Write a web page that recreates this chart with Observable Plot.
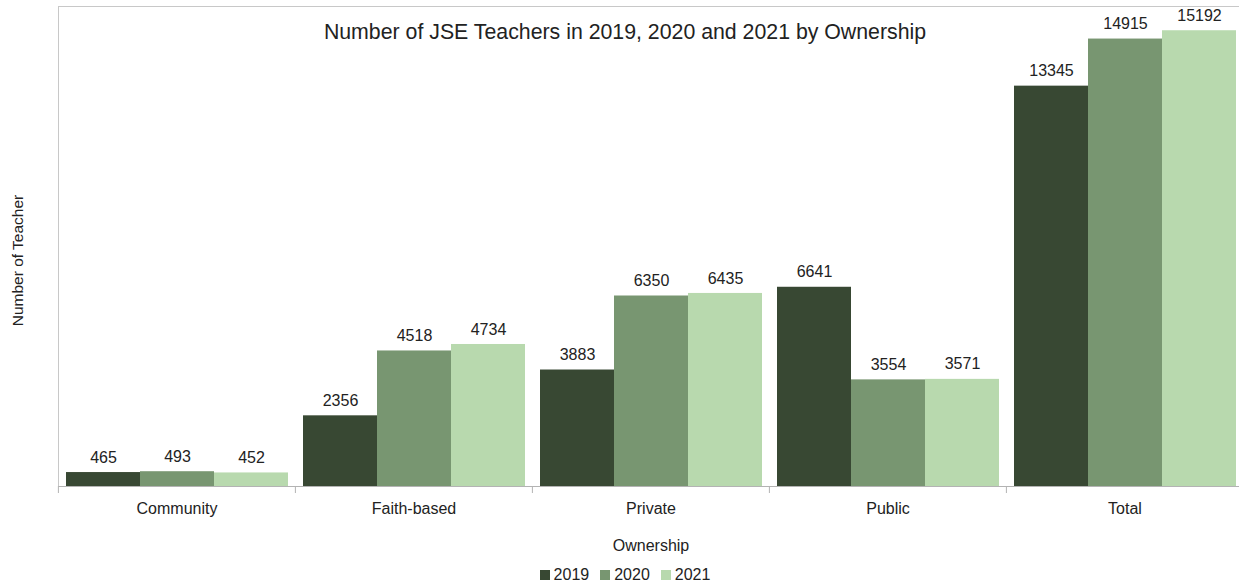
<!DOCTYPE html>
<html><head><meta charset="utf-8">
<script src="https://cdn.jsdelivr.net/npm/d3@7"></script>
<script src="https://cdn.jsdelivr.net/npm/@observablehq/plot@0.6"></script>
<style>
body{margin:0;background:#fff;font-family:"Liberation Sans",Arial,sans-serif;}
#wrap{position:relative;width:1239px;}
#title{position:absolute;top:20px;left:0;width:1250px;text-align:center;font-size:21.3px;color:#222;}
#legend{width:1250px;display:flex;justify-content:center;align-items:center;gap:11px;font-size:16px;color:#222;height:26px;}
#legend span.item{display:flex;align-items:center;gap:4px;}
#legend i{display:inline-block;width:10px;height:10px;}
</style></head><body>
<div id="wrap"><div id="chart"></div><div id="title"></div><div id="legend"></div></div>
<script>
const titleText = "Number of JSE Teachers in 2019, 2020 and 2021 by Ownership";
const yLabel = "Number of Teacher";
const xLabel = "Ownership";
const categories = ["Community","Faith-based","Private","Public","Total"];
const years = ["2019","2020","2021"];
const values2019 = [465,2356,3883,6641,13345];
const values2020 = [493,4518,6350,3554,14915];
const values2021 = [452,4734,6435,3571,15192];
const colors = ["#384833","#789671","#b8d9ae"];
const yMax = 16000;

const series = [values2019, values2020, values2021];
const data = [];
categories.forEach((c, i) => years.forEach((y, j) => data.push({category: c, year: y, value: series[j][i]})));

const W = 1239, ML = 57, MR = -4;
const band = (W - ML - MR) / categories.length;

const chart = Plot.plot({
  width: W, height: 562, marginTop: 6, marginBottom: 76, marginLeft: ML, marginRight: MR,
  style: {fontFamily: "'Liberation Sans', Arial, sans-serif", fontSize: "16px", color: "#222", background: "#fff"},
  fx: {domain: categories, padding: 0},
  x: {domain: years, axis: null, paddingInner: 0, paddingOuter: 0.085},
  y: {domain: [0, yMax], axis: null},
  color: {domain: years, range: colors},
  marks: [
    Plot.barY(data, {fx: "category", x: "year", y: "value", fill: "year"}),
    Plot.text(data, {fx: "category", x: "year", y: "value", text: d => String(d.value), dy: -15, fontSize: 16, fill: "#222"}),
    Plot.ruleY([0], {stroke: "#b3b3b3"}),
    Plot.ruleY([yMax], {stroke: "#c8c8c8"}),
    Plot.frame({anchor: "left", facetAnchor: "left", stroke: "#c8c8c8"}),
    Plot.text([yLabel], {facetAnchor: "left", frameAnchor: "left", textAnchor: "middle", rotate: -90, dx: -40, dy: 14, fontSize: 15.5, fill: "#222"}),
    Plot.axisFx({anchor: "bottom", tickSize: 0, tickPadding: 16, fontSize: 16, label: xLabel, labelAnchor: "center", labelOffset: 64}),
    Plot.axisFx({anchor: "bottom", tickSize: 7, text: null, label: null, dx: -band / 2, stroke: "#b3b3b3"})
  ]
});
document.getElementById("chart").appendChild(chart);
document.getElementById("title").textContent = titleText;
const legend = document.getElementById("legend");
years.forEach((y, j) => {
  const s = document.createElement("span"); s.className = "item";
  const sw = document.createElement("i"); sw.style.background = colors[j];
  s.appendChild(sw); s.appendChild(document.createTextNode(y));
  legend.appendChild(s);
});
</script>
</body></html>
